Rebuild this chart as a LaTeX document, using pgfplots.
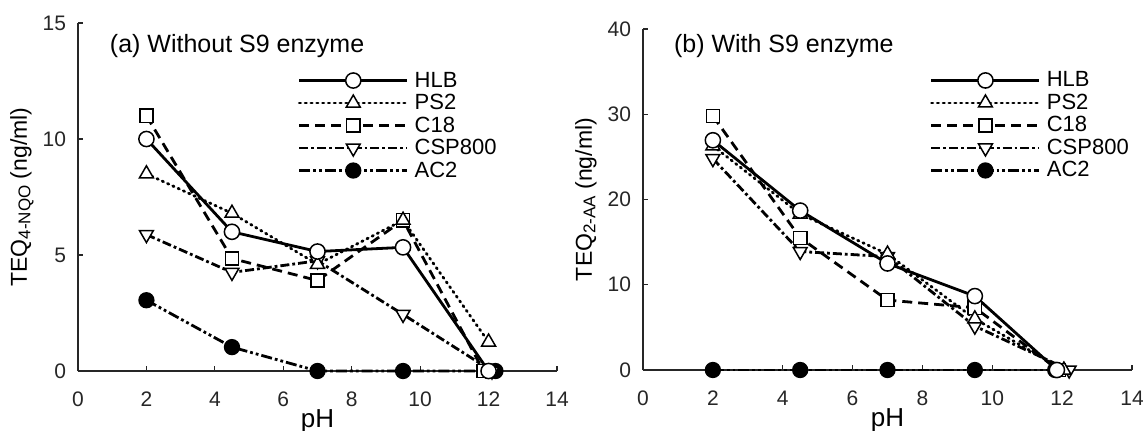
\documentclass[border=0pt]{standalone}
\usepackage{fontspec}
\setmainfont{Liberation Sans}
\usepackage{pgfplots}
\pgfplotsset{compat=1.18}

\pgfplotsset{
  teq/.style={
    scale only axis,
    axis lines=left,
    axis line style={-, line width=0.6pt, black!85},
    tick align=inside,
    major tick length=2.5pt,
    tick style={line width=0.6pt, black!85},
    xmin=0, xmax=14, xtick={0,2,...,14},
    ymin=0,
    clip=false,
    /pgf/number format/assume math mode=true,
    ticklabel style={font=\fontsize{10.5}{12}\selectfont, text=black!85},
    xticklabel style={yshift=-7pt},
    yticklabel style={xshift=-2.5pt},
    xlabel={pH},
    xlabel style={font=\fontsize{13}{15}\selectfont, at={([yshift=-28pt]axis description cs:0.5,0)}, anchor=base},
    ylabel style={font=\fontsize{11.5}{13}\selectfont, at={([xshift=-25.6pt]axis description cs:0,0.5)}, anchor=base, rotate=0},
    legend cell align=left,
    reverse legend,
    legend style={draw=none, fill=none, inner sep=0pt, outer sep=0pt,
      font=\fontsize{11}{12}\selectfont,
      nodes={inner sep=0pt, text height=8pt, text depth=1.5pt},
      row sep=1.75pt, /tikz/column 1/.style={column sep=3pt}},
    legend image code/.code={\draw[mark repeat=2,mark phase=2] plot coordinates {(0pt,0pt) (27pt,0pt) (54pt,0pt)};},
  },
  lhlb/.style={black, line width=1.4pt, solid, mark=*, mark size=3.8pt, mark options={solid, fill=white, line width=0.75pt}},
  lps/.style={black, line width=1.4pt, line cap=round, dash pattern=on 0.7pt off 2.2pt, mark=triangle*, mark size=4pt, mark options={solid, fill=white, line width=0.75pt}},
  lc/.style={black, line width=1.4pt, dash pattern=on 5pt off 3pt, mark=square*, mark size=3.3pt, mark options={solid, fill=white, line width=0.75pt}},
  lcsp/.style={black, line width=1.4pt, dash pattern=on 4.5pt off 1.5pt on 1.4pt off 1.5pt, mark=triangle*, mark size=4pt, mark options={solid, fill=white, rotate=180, line width=0.75pt}},
  lac/.style={black, line width=1.4pt, dash pattern=on 5.5pt off 1.5pt on 1.4pt off 1.5pt on 1.4pt off 1.5pt, mark=*, mark size=3.7pt, mark options={solid, fill=black, line width=0.75pt}},
}

\begin{document}
\begin{tikzpicture}
\useasboundingbox (0,0) rectangle (571.5pt,215pt);

% Panel (a)
\begin{axis}[teq,
  at={(39pt,29.5pt)}, anchor=south west,
  width=239.5pt, height=174pt,
  ymax=15, ytick={0,5,10,15},
  ylabel={TEQ\raisebox{-0.3ex}{\fontsize{8.5}{9}\selectfont 4-NQO} (ng/ml)},
  legend style={at={(rel axis cs:0.459,0.862)}, anchor=north west},
]
\addplot[lac] coordinates {(2,3.05) (4.5,1.03) (7,0) (9.5,0) (12.2,0)};
\addlegendentry{AC2}
\addplot[lcsp] coordinates {(2,5.88) (4.5,4.25) (7,4.75) (9.5,2.44) (12.1,0)};
\addlegendentry{CSP800}
\addplot[lc] coordinates {(2,11.0) (4.5,4.85) (7,3.9) (9.5,6.5) (11.85,0)};
\addlegendentry{C18}
\addplot[lps] coordinates {(2,8.5) (4.5,6.8) (7,4.6) (9.5,6.5) (12,1.25)};
\addlegendentry{PS2}
\addplot[lhlb] coordinates {(2,10.0) (4.5,6.0) (7,5.15) (9.5,5.33) (12,0)};
\addlegendentry{HLB}
\node[anchor=base west, font=\fontsize{12.5}{14}\selectfont] at (rel axis cs:0.052,0.914) {(a) Without S9 enzyme};
\end{axis}

% Panel (b)
\begin{axis}[teq,
  at={(321.5pt,30pt)}, anchor=south west,
  width=244.5pt, height=170.5pt,
  ymax=40, ytick={0,10,20,30,40},
  ylabel={TEQ\raisebox{-0.3ex}{\fontsize{8.5}{9}\selectfont 2-AA} (ng/ml)},
  legend style={at={(rel axis cs:0.587,0.877)}, anchor=north west},
]
\addplot[lac] coordinates {(2,0) (4.5,0) (7,0) (9.5,0) (11.8,0)};
\addlegendentry{AC2}
\addplot[lcsp] coordinates {(2,24.8) (4.5,13.9) (7,13.3) (9.5,5.15) (12.2,0)};
\addlegendentry{CSP800}
\addplot[lc] coordinates {(2,29.8) (4.5,15.5) (7,8.2) (9.5,7.3) (11.9,0)};
\addlegendentry{C18}
\addplot[lps] coordinates {(2,26.3) (4.5,18.3) (7,13.6) (9.5,6.0) (12.05,0)};
\addlegendentry{PS2}
\addplot[lhlb] coordinates {(2,26.95) (4.5,18.7) (7,12.5) (9.5,8.67) (11.85,0)};
\addlegendentry{HLB}
\node[anchor=base west, font=\fontsize{12.5}{14}\selectfont] at (rel axis cs:0.049,0.93) {(b) With S9 enzyme};
\end{axis}
\end{tikzpicture}
\end{document}
